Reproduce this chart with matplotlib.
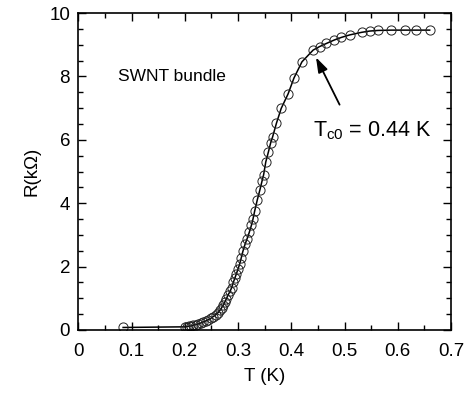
import matplotlib
matplotlib.use("Agg")
import matplotlib.pyplot as plt
from matplotlib.ticker import MultipleLocator

plt.rcParams['font.family'] = ['Liberation Sans', 'DejaVu Sans']
plt.rcParams['mathtext.fontset'] = 'custom'
plt.rcParams['mathtext.rm'] = 'Liberation Sans'
plt.rcParams['mathtext.it'] = 'Liberation Sans'

T = [0.084, 0.200, 0.204, 0.208, 0.212, 0.216, 0.220, 0.225, 0.230, 0.234,
     0.239, 0.244, 0.249, 0.253, 0.258, 0.262, 0.266, 0.269, 0.272, 0.275,
     0.278, 0.281, 0.285, 0.288, 0.291, 0.294, 0.297, 0.300, 0.303, 0.306,
     0.309, 0.313, 0.317, 0.321, 0.325, 0.328, 0.331, 0.336, 0.341, 0.345,
     0.348, 0.352, 0.357, 0.361, 0.365, 0.372, 0.381, 0.394, 0.405, 0.420,
     0.441, 0.453, 0.466, 0.481, 0.494, 0.510, 0.532, 0.547, 0.563, 0.588,
     0.613, 0.635, 0.660]
R = [0.08, 0.10, 0.11, 0.12, 0.13, 0.15, 0.17, 0.19, 0.22, 0.25,
     0.28, 0.32, 0.37, 0.42, 0.48, 0.54, 0.62, 0.70, 0.78, 0.88,
     0.98, 1.10, 1.22, 1.34, 1.50, 1.64, 1.78, 1.93, 2.08, 2.28,
     2.48, 2.70, 2.88, 3.08, 3.30, 3.50, 3.74, 4.10, 4.42, 4.70,
     4.90, 5.30, 5.62, 5.89, 6.10, 6.52, 6.99, 7.45, 7.95, 8.46,
     8.83, 8.94, 9.04, 9.15, 9.23, 9.31, 9.39, 9.43, 9.45, 9.46,
     9.46, 9.46, 9.46]

xticks = [0, 0.1, 0.2, 0.3, 0.4, 0.5, 0.6, 0.7]
xticklabels = ['0', '0.1', '0.2', '0.3', '0.4', '0.5', '0.6', '0.7']
yticks = [0, 2, 4, 6, 8, 10]

fig = plt.figure(figsize=(4.73, 3.94), dpi=100)
ax = fig.add_axes([78.4/473, 1 - 330/394, (451 - 78.4)/473, (330 - 13)/394])

ax.plot(T, R, '-', color='black', lw=1.1, marker='o', ms=6.6,
        mfc='none', mec='#222222', mew=0.7)

ax.set_xlim(0, 0.7)
ax.set_ylim(0, 10)
ax.set_xticks(xticks)
ax.set_xticklabels(xticklabels)
ax.set_yticks(yticks)
ax.xaxis.set_minor_locator(MultipleLocator(0.05))
ax.yaxis.set_minor_locator(MultipleLocator(0.5))
ax.tick_params(which='both', direction='in', top=True, right=True,
               labelsize=13.5, width=1)
ax.tick_params(axis='x', which='major', pad=9)
ax.tick_params(axis='y', which='major', pad=6)
ax.tick_params(which='major', length=6)
ax.tick_params(which='minor', length=3.5)
for s in ax.spines.values():
    s.set_linewidth(1.2)

ax.set_xlabel('T (K)', fontsize=13.5, labelpad=6)
ax.set_ylabel('R(k\u03A9)', fontsize=13.5, labelpad=6)

ax.text(0.075, 8.0, 'SWNT bundle', fontsize=12.5, ha='left', va='center')
ax.annotate('', xy=(0.444, 8.68), xytext=(0.493, 7.03),
            arrowprops=dict(arrowstyle='-|>,head_length=0.9,head_width=0.3',
                            color='black', lw=1.3))
ax.text(0.441, 6.3, r'$\mathregular{T_{c0}}$ = 0.44 K', fontsize=15.5,
        ha='left', va='center')

fig.savefig('out.png', dpi=100)
